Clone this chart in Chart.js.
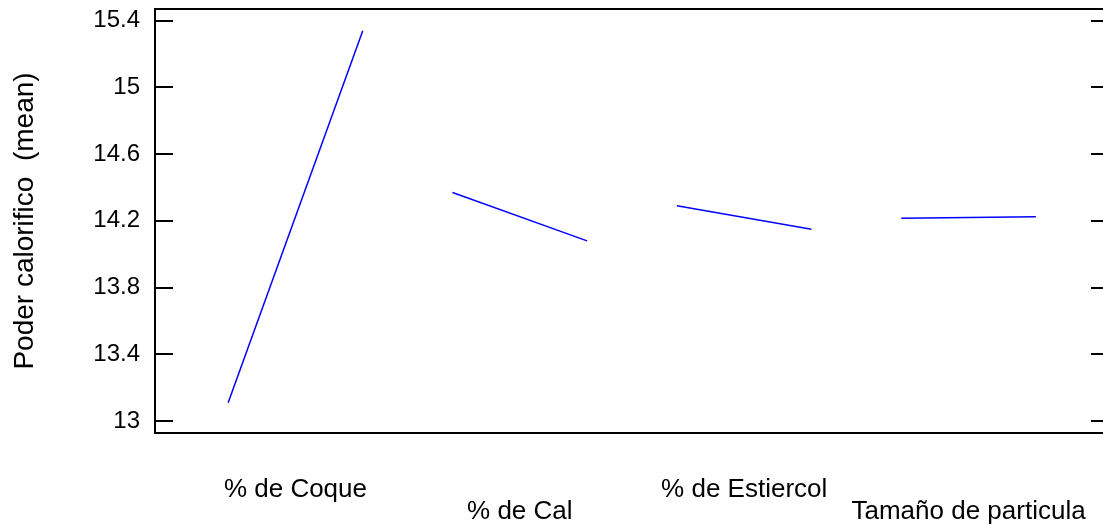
<!DOCTYPE html>
<html>
<head>
<meta charset="utf-8">
<script src="https://cdn.jsdelivr.net/npm/chart.js@4.4.0/dist/chart.umd.min.js"></script>
<style>
  html, body { margin: 0; padding: 0; background: #fff; overflow: hidden; }
  #wrap { width: 1103px; height: 525px; overflow: hidden; position: relative; }
  canvas { position: absolute; left: 0; top: 0; }
</style>
</head>
<body>
<div id="wrap"><canvas id="c" width="1115" height="525"></canvas></div>
<script>
// Main effects: mean of "Poder calorifico" at the low and high level of each factor
const factors = ['% de Coque', '% de Cal', '% de Estiercol', 'Tamaño de particula'];
const lowLevelMeans  = [13.11, 14.37, 14.29, 14.215];
const highLevelMeans = [15.34, 14.08, 14.15, 14.225];
const yTickValues = [13, 13.4, 13.8, 14.2, 14.6, 15, 15.4];
const yTickLabels = ['13', '13.4', '13.8', '14.2', '14.6', '15', '15.4'];
const factorPositions = [1, 2, 3, 4];

const HALF = 0.3;           // half-width of each factor's segment along x
const FONT = 'Liberation Sans, Arial, sans-serif';

const datasets = factors.map((name, i) => ({
  label: name,
  data: [
    { x: factorPositions[i] - HALF, y: lowLevelMeans[i] },
    { x: factorPositions[i] + HALF, y: highLevelMeans[i] }
  ],
  borderColor: '#0000ff',
  borderWidth: 1.5,
  pointRadius: 0,
  tension: 0,
  fill: false
}));

// Frame round the plot area with inward tick marks on both sides
const framePlugin = {
  id: 'frame',
  afterDraw(chart) {
    const { ctx, chartArea: a, scales: { y } } = chart;
    ctx.save();
    ctx.strokeStyle = '#000';
    ctx.lineWidth = 2;
    ctx.strokeRect(a.left, a.top, a.right - a.left, a.bottom - a.top);
    y.ticks.forEach(t => {
      const py = Math.round(y.getPixelForValue(t.value));
      ctx.beginPath();
      ctx.moveTo(a.left, py); ctx.lineTo(a.left + 18, py);
      ctx.moveTo(a.right - 18, py); ctx.lineTo(a.right, py);
      ctx.stroke();
    });
    ctx.restore();
  }
};

new Chart(document.getElementById('c'), {
  type: 'line',
  data: { datasets },
  plugins: [framePlugin],
  options: {
    responsive: false,
    animation: false,
    devicePixelRatio: 1,
    layout: { padding: { left: 0, top: 9, right: 6, bottom: 0 } },
    plugins: { legend: { display: false }, tooltip: { enabled: false } },
    scales: {
      x: {
        type: 'linear',
        min: 0.374,
        max: 4.626,
        grid: { display: false },
        border: { display: false },
        afterBuildTicks(scale) {
          scale.ticks = factorPositions.map(v => ({ value: v }));
        },
        afterFit(scale) {
          scale.height = 92;
          scale.paddingLeft = 0;
          scale.paddingRight = 0;
        },
        ticks: {
          autoSkip: false,
          maxRotation: 0,
          minRotation: 0,
          padding: 38,
          color: '#000',
          font: { family: FONT, size: 26, lineHeight: '22px' },
          callback(value, index) {
            const label = factors[index];
            return index % 2 === 1 ? ['', label] : label;
          }
        }
      },
      y: {
        min: 12.928,
        max: 15.47,
        grid: { display: false, drawTicks: false },
        border: { display: false },
        afterBuildTicks(scale) {
          scale.ticks = yTickValues.map(v => ({ value: v }));
        },
        afterFit(scale) {
          scale.width = 155;
          scale.paddingTop = 0;
          scale.paddingBottom = 0;
        },
        ticks: {
          padding: 15,
          color: '#000',
          font: { family: FONT, size: 24 },
          callback(value, index) { return yTickLabels[index]; }
        },
        title: {
          display: true,
          text: 'Poder calorifico  (mean)',
          color: '#000',
          font: { family: FONT, size: 28 },
          padding: { top: 8, bottom: 0 }
        }
      }
    }
  }
});
</script>
</body>
</html>
